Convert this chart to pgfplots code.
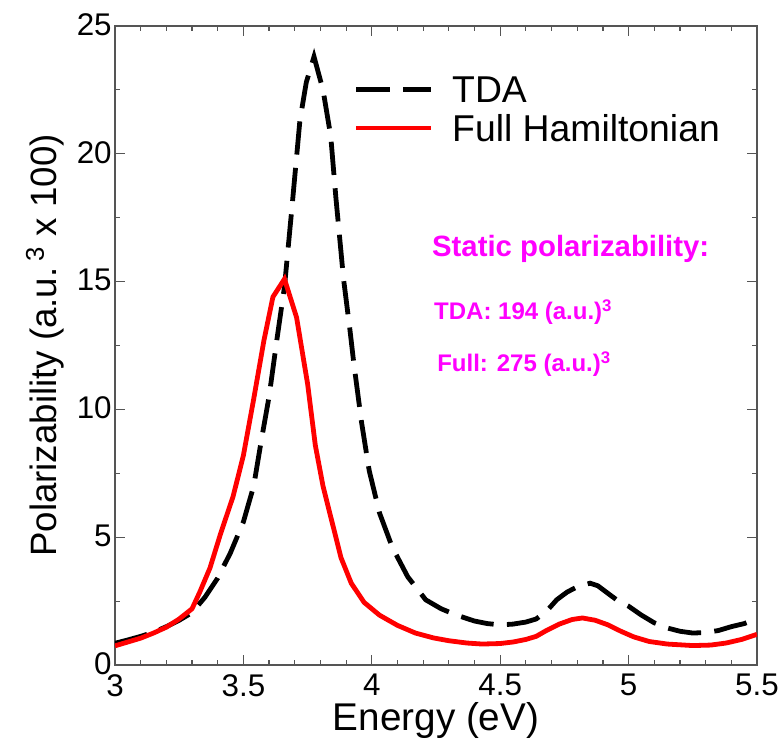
\documentclass[border=0pt]{standalone}
\usepackage{pgfplots}
\pgfplotsset{compat=1.18}
\usepackage{fontspec}
\setmainfont{Liberation Sans}
\usetikzlibrary{calc}
\definecolor{axgray}{HTML}{555555}
\definecolor{mag}{HTML}{FF00FF}
\begin{document}
\begin{tikzpicture}
\begin{axis}[
  scale only axis,
  width=481.5pt, height=479.25pt,
  xmin=3, xmax=5.5, ymin=0, ymax=25,
  xtick={3,3.5,4,4.5,5,5.5},
  xticklabels={3,3.5,4,4.5,5,5.5},
  ytick={0,5,10,15,20,25},
  minor x tick num=4,
  minor y tick num=1,
  tick align=inside,
  major tick length=7.5pt,
  minor tick length=4pt,
  axis line style={axgray, line width=0.9pt},
  every tick/.style={axgray, line width=0.9pt},
  /pgf/number format/assume math mode=true,
  ticklabel style={font=\fontsize{23.5}{27}\selectfont},
  xticklabel style={yshift=-3.5pt},
  yticklabel style={xshift=1pt, yshift=1pt},
  xlabel={Energy (eV)},
  ylabel={Polarizability (a.u.\,\textsuperscript{3} x 100)},
  xlabel style={font=\fontsize{29}{34}\selectfont, yshift=-1pt, inner sep=0pt},
  ylabel style={font=\fontsize{27.5}{30}\selectfont, yshift=3pt},
  legend cell align=left,
  legend style={draw=none, fill=none, font=\fontsize{28}{30}\selectfont,
    at={(rel axis cs:0.372,0.925)}, anchor=north west,
    row sep=5pt, inner sep=0pt,
    nodes={inner xsep=0pt, text depth=0pt},
    /tikz/every even column/.append style={column sep=0pt}},
  legend image code/.code={\draw[#1] (0pt,0pt) -- (56pt,0pt);},
  clip=true,
]
\addplot[black, line width=3.6pt, dash pattern=on 25pt off 10pt] coordinates {
(3.00,0.85) (3.05,0.98) (3.10,1.12) (3.15,1.28) (3.20,1.50) (3.25,1.75)
(3.30,2.05) (3.35,2.65) (3.40,3.40) (3.45,4.40) (3.50,5.60) (3.54,7.00)
(3.57,8.80) (3.60,10.5) (3.63,12.7) (3.66,14.8) (3.69,18.0) (3.72,21.3)
(3.745,22.8) (3.775,23.8) (3.81,22.5) (3.84,20.7) (3.86,18.3) (3.89,15.1)
(3.915,13.1) (3.93,11.8) (3.96,9.5) (3.99,7.6) (4.03,5.95) (4.08,4.6)
(4.14,3.45) (4.21,2.55) (4.27,2.2) (4.33,1.95) (4.40,1.72) (4.45,1.62)
(4.50,1.57) (4.55,1.60) (4.60,1.68) (4.64,1.80) (4.68,2.10) (4.72,2.55)
(4.76,2.85) (4.80,3.06) (4.85,3.20) (4.88,3.10) (4.92,2.80) (4.96,2.50)
(5.00,2.30) (5.05,1.95) (5.10,1.65) (5.15,1.45) (5.20,1.32) (5.25,1.25)
(5.30,1.27) (5.35,1.35) (5.40,1.50) (5.45,1.62) (5.50,1.80)
};
\addlegendentry{\hspace{14pt}TDA}
\addplot[red, line width=3.6pt] coordinates {
(3.00,0.75) (3.05,0.90) (3.10,1.05) (3.15,1.25) (3.20,1.48) (3.25,1.80)
(3.30,2.20) (3.33,2.85) (3.37,3.80) (3.41,5.10) (3.46,6.60) (3.50,8.20)
(3.54,10.4) (3.58,12.7) (3.615,14.4) (3.66,15.1) (3.707,13.6) (3.75,11.0)
(3.78,8.6) (3.81,7.0) (3.84,5.8) (3.88,4.2) (3.92,3.2) (3.97,2.45)
(4.03,1.95) (4.10,1.55) (4.17,1.25) (4.24,1.06) (4.30,0.95) (4.37,0.86)
(4.43,0.82) (4.50,0.84) (4.55,0.90) (4.60,1.00) (4.64,1.12) (4.68,1.35)
(4.73,1.60) (4.78,1.78) (4.82,1.84) (4.87,1.75) (4.92,1.57) (4.97,1.32)
(5.02,1.10) (5.08,0.92) (5.15,0.82) (5.25,0.76) (5.32,0.78) (5.38,0.86)
(5.44,1.00) (5.50,1.20)
};
\addlegendentry{\hspace{14pt}Full Hamiltonian}
\node[anchor=west, text=mag, font=\fontsize{22}{25}\selectfont\bfseries, inner sep=0pt] at (axis cs:4.234,16.26) {Static polarizability:};
\node[anchor=west, text=mag, font=\fontsize{18}{21}\selectfont\bfseries, inner sep=0pt] at (axis cs:4.242,13.8) {TDA: 194 (a.u.)\textsuperscript{3}};
\node[anchor=west, text=mag, font=\fontsize{18}{21}\selectfont\bfseries, inner sep=0pt] at (axis cs:4.254,11.76) {Full: 275 (a.u.)\textsuperscript{3}};
\end{axis}
\pgfresetboundingbox
\path ($(current axis.south west)+(-86.25pt,-58.5pt)$) rectangle ($(current axis.north east)+(18.75pt,19.5pt)$);
\end{tikzpicture}
\end{document}
